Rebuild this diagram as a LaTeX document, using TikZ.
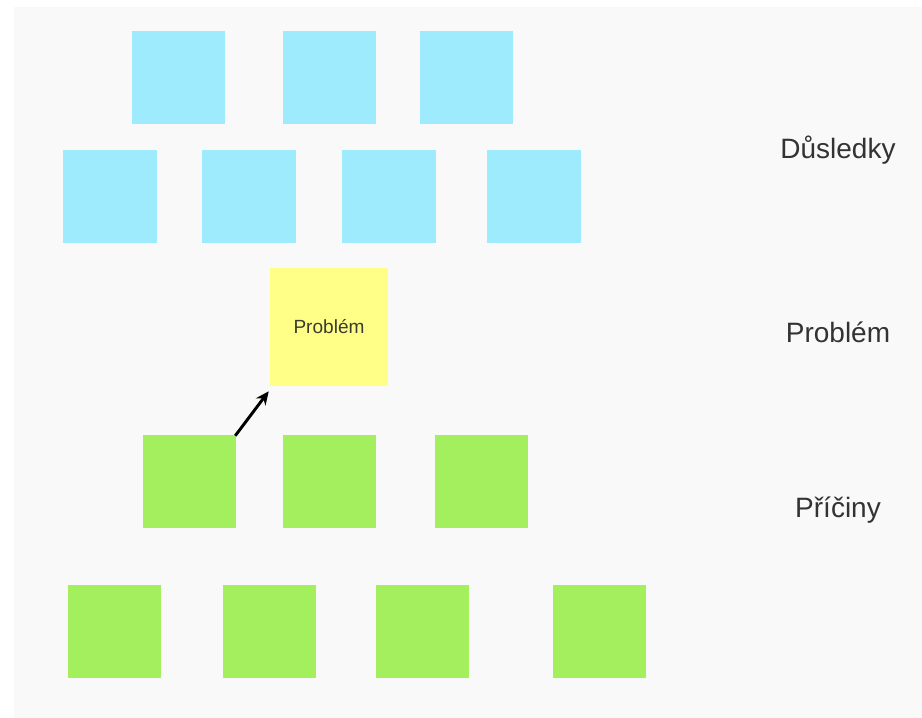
\documentclass[tikz,border=0pt]{standalone}
\usepackage{fontspec}
\setmainfont{Liberation Sans}
\usetikzlibrary{calc,arrows.meta}
\definecolor{bg}{HTML}{F9F9F9}
\definecolor{cblue}{HTML}{9EEBFE}
\definecolor{cyel}{HTML}{FFFF88}
\definecolor{cgreen}{HTML}{A4EF5E}
\definecolor{txt}{HTML}{333333}
\tikzset{
  sticky/.style={draw=none, inner sep=0pt, minimum width=69.75pt, minimum height=69.75pt},
  blue/.style={sticky, fill=cblue},
  green/.style={sticky, fill=cgreen},
  yel/.style={sticky, fill=cyel, minimum width=88.5pt, minimum height=88.5pt, font=\fontsize{14.3}{17}\selectfont, text=txt!90!olive},
  lbl/.style={font=\fontsize{21}{25}\selectfont, text=txt, inner sep=0pt},
  arr/.style={-{Stealth[length=10pt,width=9pt]}, line width=2.2pt, black}
}
\begin{document}
\begin{tikzpicture}[x=0.75pt,y=-0.75pt]
\useasboundingbox (0,0) rectangle (922,718);
\fill[white] (0,0) rectangle (922,718);
\fill[bg] (14,7) rectangle (923,719);
% Consequences
\node[blue] (b1) at (178.5,77.5) {};
\node[blue] (b2) at (329.5,77.5) {};
\node[blue] (b3) at (466.5,77.5) {};
\node[blue, minimum width=70.5pt] (b4) at (110,196) {};
\node[blue, minimum width=70.5pt] (b5) at (249,196) {};
\node[blue, minimum width=70.5pt] (b6) at (388.5,196) {};
\node[blue, minimum width=70.5pt] (b7) at (533.5,196) {};
% Problem
\node[yel] (p) at (329,327) {Problém};
% Causes
\node[green] (g1) at (189.5,481.5) {};
\node[green] (g2) at (329.5,481.5) {};
\node[green] (g3) at (481.5,481.5) {};
\node[green] (g4) at (114.5,631.5) {};
\node[green] (g5) at (269.5,631.5) {};
\node[green] (g6) at (422.5,631.5) {};
\node[green] (g7) at (599.5,631.5) {};
% Arrow
\coordinate (aend) at ($(p.south west)+(-1,5)$);
\draw[arr] ($(g1.north east)+(-1,1)$) -- (aend);
% Labels
\node[lbl] (l1) at (838,150) {Důsledky};
\node[lbl] (l2) at (838,332) {Problém};
\node[lbl] (l3) at (838,510) {Příčiny};
\end{tikzpicture}
\end{document}
